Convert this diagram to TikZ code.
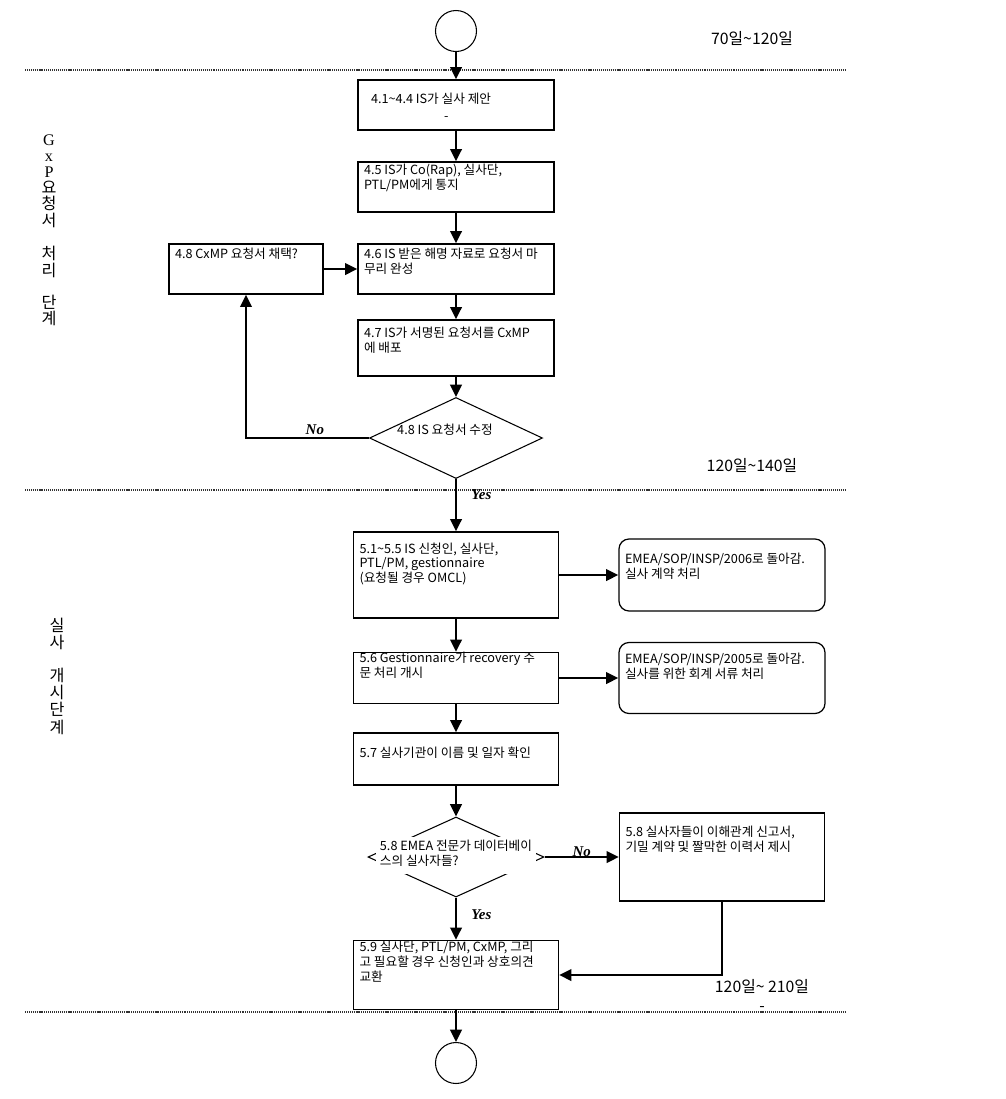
\documentclass[tikz,border=0pt]{standalone}
\usepackage{fontspec}
\setmainfont{Noto Sans CJK KR}
\newfontfamily\serifrm{Liberation Serif}
\usetikzlibrary{positioning,shapes.geometric,arrows.meta}

\newdimen\pxu \pxu=0.2mm
\newcommand{\til}{{\char"007E}}
\newcommand{\boxfont}{\fontsize{7.2pt}{7.8pt}\selectfont}
% box text: [top gap]{width}{height}{lines}
\newcommand{\boxlines}[4][0pt]{\parbox[c][#3][t]{#2}{\vspace*{#1}\begin{tabular}[t]{@{}l@{}}#4\end{tabular}}}

\begin{document}
\begin{tikzpicture}[x=0.2mm, y=-0.2mm,
    procbox/.style={draw, rectangle, line width=0.7pt, inner xsep=1.2mm, inner ysep=0.8mm, font=\boxfont},
    roundbox/.style={procbox, rounded corners=2mm},
    decision/.style={draw, diamond, line width=0.6pt, inner sep=0pt, font=\boxfont},
    terminal/.style={draw, circle, line width=0.6pt, minimum size=8.2mm, inner sep=0pt},
    flow/.style={-{Triangle[length=7pt,width=6.5pt]}, line width=1.4pt},
    answer/.style={font=\serifrm\bfseries\itshape\fontsize{8.5pt}{9pt}\selectfont, inner sep=1pt},
    period/.style={font=\fontsize{9pt}{10.8pt}\selectfont, align=center},
    stage/.style={font=\fontsize{9.2pt}{9.2pt}\selectfont, align=center, inner sep=0pt},
    phase/.style={dash pattern=on 0.6pt off 0.5pt, line width=0.8pt, black!80}]
    \useasboundingbox (0,0) rectangle (1006,1099);

    % Phase separators and periods
    \draw[phase] (25,70) -- (845,70);
    \draw[phase] (25,490) -- (845,490);
    \draw[phase] (25,1012) -- (845,1012);
    \node[period] (early) at (752,38) {70일\til120일};
    \node[period] (middle) at (752,465) {120일\til140일};
    \node[period] (late) at (762,995) {120일\til\ 210일\\-};

    % Stage names
    \node[stage] (gxpstage) at (49,230) {{\serifrm G}\\{\serifrm x}\\{\serifrm P}\\요\\청\\서\\[10pt]처\\리\\[9pt]단\\계};
    \node[stage, font=\fontsize{9.2pt}{9.8pt}\selectfont] (auditstage) at (57,676) {실\\사\\[9pt]개\\시\\단\\계};

    % GxP request stage
    \node[terminal] (start) at (456,31) {};
    \node[procbox] (propose) at (456,105) {\boxlines[9\pxu]{184\pxu}{42\pxu}{\hspace*{7\pxu}4.1\til4.4 IS가 실사 제안\\[2pt]\hspace*{80\pxu}-}};
    \node[procbox] (notify) at (456,187) {\boxlines[-2\pxu]{184\pxu}{42\pxu}{4.5 IS가 Co(Rap), 실사단,\\PTL/PM에게 통지}};
    \node[procbox] (complete) at (456,269) {\boxlines{184\pxu}{42\pxu}{4.6 IS 받은 해명 자료로 요청서 마\\무리 완성}};
    \node[procbox] (adopt) at (246,269) {\boxlines{142\pxu}{42\pxu}{4.8 CxMP 요청서 채택?}};
    \node[procbox] (distribute) at (456,348) {\boxlines[3\pxu]{184\pxu}{48\pxu}{4.7 IS가 서명된 요청서를 CxMP\\에 배포}};
    \node[decision, minimum width=34.6mm, minimum height=16.2mm,
        label={[font=\boxfont, xshift=-2.2mm, yshift=1.6mm]center:4.8 IS 요청서 수정}] (revise) at (456,438) {};

    % Audit start stage
    \node[procbox] (applicant) at (456,575) {\boxlines[7\pxu]{193\pxu}{78\pxu}{5.1\til5.5 IS 신청인, 실사단,\\PTL/PM, gestionnaire\\(요청될 경우 OMCL)}};
    \node[roundbox] (contract) at (722,575) {\boxlines[10\pxu]{194\pxu}{64\pxu}{EMEA/SOP/INSP/2006로 돌아감.\\실사 계약 처리}};
    \node[procbox] (recovery) at (456,678) {\boxlines[-4\pxu]{193\pxu}{43\pxu}{5.6 Gestionnaire가 recovery 주\\문 처리 개시}};
    \node[roundbox] (accounting) at (722,678) {\boxlines[7\pxu]{194\pxu}{63\pxu}{EMEA/SOP/INSP/2005로 돌아감.\\실사를 위한 회계 서류 처리}};
    \node[procbox] (confirm) at (456,759) {\boxlines[10\pxu]{193\pxu}{44\pxu}{5.7 실사기관이 이름 및 일자 확인}};
    \node[decision, minimum width=35.2mm, minimum height=16mm,
        label={[font=\boxfont, fill=white, inner sep=0pt, minimum width=32mm, minimum height=7.4mm, yshift=0.4mm]center:\begin{tabular}{@{}l@{}}5.8 EMEA 전문가 데이터베이\\스의 실사자들?\end{tabular}}] (expert) at (456,857) {};
    \node[procbox] (declare) at (722,857) {\boxlines[9\pxu]{193\pxu}{80\pxu}{5.8 실사자들이 이해관계 신고서,\\기밀 계약 및 짤막한 이력서 제시}};
    \node[procbox] (exchange) at (456,975) {\boxlines[-3\pxu]{193\pxu}{61\pxu}{5.9 실사단, PTL/PM, CxMP, 그리\\고 필요할 경우 신청인과 상호의견\\교환}};
    \node[terminal] (finish) at (456,1063) {};

    % Connectors
    \draw[flow] (start) -- (propose);
    \draw[flow] (propose) -- (notify);
    \draw[flow] (notify) -- (complete);
    \draw[flow] (complete) -- (distribute);
    \draw[flow] (distribute) -- (revise);
    \draw[flow] (revise.west) -| node[answer, pos=0.22, above] {No} (adopt.south);
    \draw[flow] (adopt) -- (complete);
    \draw[flow] (revise) -- node[answer, pos=0.3, right=2.5mm] {Yes} (applicant);
    \draw[flow] (applicant) -- (contract);
    \draw[flow] (applicant) -- (recovery);
    \draw[flow] (recovery) -- (accounting);
    \draw[flow] (recovery) -- (confirm);
    \draw[flow] (confirm) -- (expert);
    \draw[flow] (expert) -- node[answer, midway, yshift=1mm] {No} (declare);
    \draw[flow] (expert) -- node[answer, pos=0.4, right=2.5mm] {Yes} (exchange);
    \draw[flow] (declare.south) |- (exchange.east);
    \draw[flow] (exchange) -- (finish);
\end{tikzpicture}
\end{document}
